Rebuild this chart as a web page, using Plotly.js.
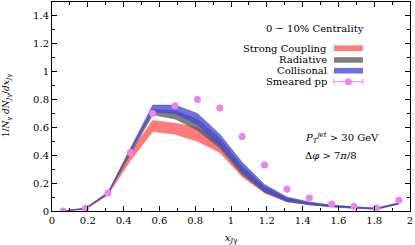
<!DOCTYPE html>
<html><head><meta charset="utf-8">
<script src="https://cdn.plot.ly/plotly-3.0.1.min.js"></script>
<style>html,body{margin:0;padding:0;background:#fff}#chart{width:415px;height:245px}</style>
</head><body><div id="chart"></div>
<script>
const xBins = [0.0625,0.1875,0.3125,0.4375,0.5625,0.6875,0.8125,0.9375,1.0625,1.1875,1.3125,1.4375,1.5625,1.6875,1.8125,1.9375];
const strongLow  = [0,0.012,0.115,0.36,0.57,0.55,0.50,0.42,0.245,0.13,0.065,0.045,0.03,0.02,0.014,0.05];
const strongHigh = [0,0.02,0.13,0.42,0.65,0.63,0.60,0.50,0.30,0.165,0.088,0.058,0.04,0.027,0.02,0.058];
const radLow     = [0,0.015,0.12,0.41,0.69,0.66,0.58,0.45,0.26,0.135,0.068,0.045,0.03,0.02,0.014,0.05];
const radHigh    = [0,0.02,0.13,0.44,0.73,0.72,0.66,0.52,0.32,0.175,0.092,0.06,0.04,0.028,0.02,0.058];
const colLow     = [0,0.015,0.125,0.43,0.71,0.70,0.62,0.47,0.28,0.14,0.07,0.045,0.03,0.02,0.012,0.05];
const colHigh    = [0,0.022,0.135,0.45,0.76,0.76,0.70,0.55,0.35,0.19,0.10,0.065,0.042,0.03,0.02,0.06];
const ppVals     = [0,0.02,0.13,0.42,0.70,0.755,0.80,0.74,0.535,0.33,0.156,0.094,0.05,0.032,0.022,0.077];
const legendNames = ["Strong Coupling","Radiative","Collisonal","Smeared pp"];

const C = {red:'rgba(255,90,90,0.8)', gray:'rgba(95,95,95,0.8)', blue:'rgba(70,70,215,0.78)', pp:'#ee82ee'};
const font = 'DejaVu Serif';

function band(lo, hi, col, name){
  return [
    {x:xBins, y:lo, mode:'lines', line:{width:0.6, color:col}, showlegend:false, hoverinfo:'skip'},
    {x:xBins, y:hi, mode:'lines', fill:'tonexty', fillcolor:col, line:{width:0.6, color:col}, name:name, showlegend:false}
  ];
}
const data = [
  ...band(strongLow, strongHigh, C.red, legendNames[0]),
  ...band(radLow, radHigh, C.gray, legendNames[1]),
  ...band(colLow, colHigh, C.blue, legendNames[2]),
  {x:xBins, y:ppVals, mode:'markers', marker:{color:C.pp, size:7}, name:legendNames[3], showlegend:false}
];

const legY = [1.168,1.084,1.007,0.928];
const legCols = [C.red, C.gray, C.blue];
const shapes = [];
legCols.forEach((c,i)=>{
  shapes.push({type:'rect', xref:'x', yref:'y', x0:1.575, x1:1.737, y0:legY[i]-0.02, y1:legY[i]+0.02, fillcolor:c, line:{width:0}});
});
shapes.push({type:'line', xref:'x', yref:'y', x0:1.575, x1:1.737, y0:legY[3], y1:legY[3], line:{color:C.pp, width:1}});
shapes.push({type:'line', xref:'x', yref:'y', x0:1.575, x1:1.575, y0:legY[3]-0.02, y1:legY[3]+0.02, line:{color:C.pp, width:1}});
shapes.push({type:'line', xref:'x', yref:'y', x0:1.737, x1:1.737, y0:legY[3]-0.02, y1:legY[3]+0.02, line:{color:C.pp, width:1}});
shapes.push({type:'circle', xref:'x', yref:'y', xsizemode:'pixel', ysizemode:'pixel', xanchor:1.656, yanchor:legY[3], x0:-3.5, x1:3.5, y0:-3.5, y1:3.5, fillcolor:C.pp, line:{width:0}});

const tf = {family:font, size:10, color:'#000'};
const annotations = legendNames.map((n,i)=>({xref:'x', yref:'y', x:1.54, y:legY[i], text:n, showarrow:false, xanchor:'right', yanchor:'middle', height:11, borderpad:0, font:tf}));
annotations.push({xref:'x', yref:'y', x:1.469, y:1.312, text:'0 − 10% Centrality', showarrow:false, xanchor:'center', yanchor:'middle', font:tf});
annotations.push({xref:'x', yref:'y', x:1.40, y:0.525, text:'<i>P</i><sub><i>T</i></sub><sup><i>jet</i></sup> > 30 GeV', showarrow:false, xanchor:'left', yanchor:'middle', font:tf});
annotations.push({xref:'x', yref:'y', x:1.40, y:0.40, text:'Δ<i>φ</i> > 7<i>π</i>/8', showarrow:false, xanchor:'left', yanchor:'middle', font:tf});
annotations.push({xref:'paper', yref:'paper', x:-0.125, y:0.507, text:'1/<i>N</i><sub>γ</sub> <i>dN</i><sub><i>J</i>γ</sub>/<i>dx</i><sub><i>J</i>γ</sub>', textangle:-90, showarrow:false, xanchor:'center', yanchor:'middle', font:{family:font, size:9, color:'#000'}});

const axisCommon = {showline:true, linecolor:'#000', linewidth:1, mirror:'ticks', ticks:'inside', ticklen:5, tickcolor:'#000', showgrid:false, zeroline:false, tickfont:tf};
const layout = {
  width:415, height:245, margin:{l:52, r:5, t:2, b:34},
  paper_bgcolor:'#fff', plot_bgcolor:'#fff', showlegend:false,
  font:{family:font},
  xaxis:Object.assign({}, axisCommon, {range:[0,2], dtick:0.2, tick0:0, minor:{dtick:0.1, ticks:'inside', ticklen:3, tickcolor:'#000'},
    title:{text:'<i>x</i><sub><i>J</i>γ</sub>', font:tf, standoff:10}}),
  yaxis:Object.assign({}, axisCommon, {range:[0,1.5], dtick:0.2, tick0:0, minor:{dtick:0.1, ticks:'inside', ticklen:3, tickcolor:'#000'}}),
  shapes:shapes, annotations:annotations
};
Plotly.newPlot('chart', data, layout, {displayModeBar:false, staticPlot:true});
</script></body></html>
